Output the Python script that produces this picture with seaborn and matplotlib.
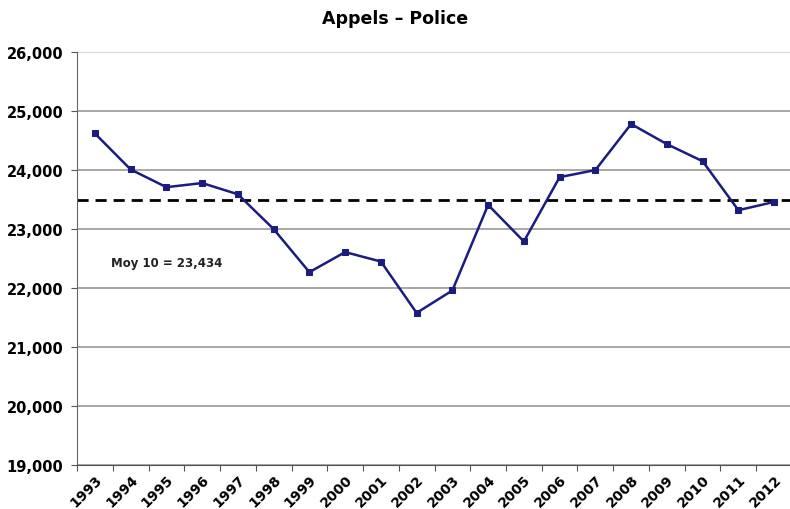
import matplotlib
matplotlib.use("Agg")
import matplotlib.pyplot as plt
import matplotlib.ticker as mticker
import seaborn as sns
import pandas as pd
import numpy as np

# Data
years = list(range(1993, 2013))
calls = [24620, 24010, 23710, 23780, 23590, 23000, 22270, 22610, 22450, 21580,
         21960, 23410, 22790, 23880, 24000, 24780, 24440, 24150, 23320, 23460]
avg_level = 23495
avg_label = "Moy 10 = 23,434"

df = pd.DataFrame({"Year": years, "Calls": calls})

sns.set_style("white")
plt.rcParams["text.color"] = "black"
plt.rcParams["xtick.color"] = "black"
plt.rcParams["ytick.color"] = "black"

fig = plt.figure(figsize=(7.9, 5.1), dpi=100)
ax = fig.add_axes([0.0975, 0.086, 0.905, 0.81])

# grid lines
for v in range(19000, 26001, 1000):
    ax.axhline(v, color="#d0d0d0" if v == 26000 else "#9a9a9a", lw=1.2, zorder=1)

# average line
ax.axhline(avg_level, color="black", lw=2, ls=(0, (4, 2.5)), zorder=2)

sns.lineplot(data=df, x="Year", y="Calls", ax=ax, color="#1c1c80", lw=1.8,
             marker="s", markersize=5, markeredgecolor="#1c1c80", zorder=3)

ax.text(1993.45, 22440, avg_label, fontsize=8.5, fontweight="bold", color="#222222",
        ha="left", va="center")

ax.set_xlim(years[0] - 0.5, years[-1] + 0.5)
ax.set_ylim(19000, 26000)

# x: tick marks between categories, labels at centres
ax.set_xticks(np.arange(years[0] - 0.5, years[-1] + 1.0, 1.0))
ax.set_xticklabels([])
ax.set_xticks(years, minor=True)
ax.set_xticklabels([str(y) for y in years], minor=True, rotation=45,
                   ha="right", rotation_mode="anchor", fontsize=10, fontweight="bold")
ax.tick_params(axis="x", which="major", length=4, color="#555555", direction="out", bottom=True)
ax.tick_params(axis="x", which="minor", length=0, pad=5)

ax.yaxis.set_major_locator(mticker.MultipleLocator(1000))
ax.yaxis.set_major_formatter(mticker.FuncFormatter(lambda v, p: f"{int(v):,}"))
ax.tick_params(axis="y", length=4, color="#555555", direction="out", left=True, pad=6)
for lab in ax.get_yticklabels():
    lab.set_fontweight("bold")
    lab.set_fontsize(10.5)

ax.set_xlabel("")
ax.set_ylabel("")
for s in ["top", "right"]:
    ax.spines[s].set_visible(False)
ax.spines["left"].set_color("#666666")
ax.spines["bottom"].set_color("#555555")

fig.text(0.5, 0.962, "Appels – Police", ha="center", va="center",
         fontsize=12.5, fontweight="bold", color="black")

fig.savefig("out.png", dpi=100, facecolor="white")
